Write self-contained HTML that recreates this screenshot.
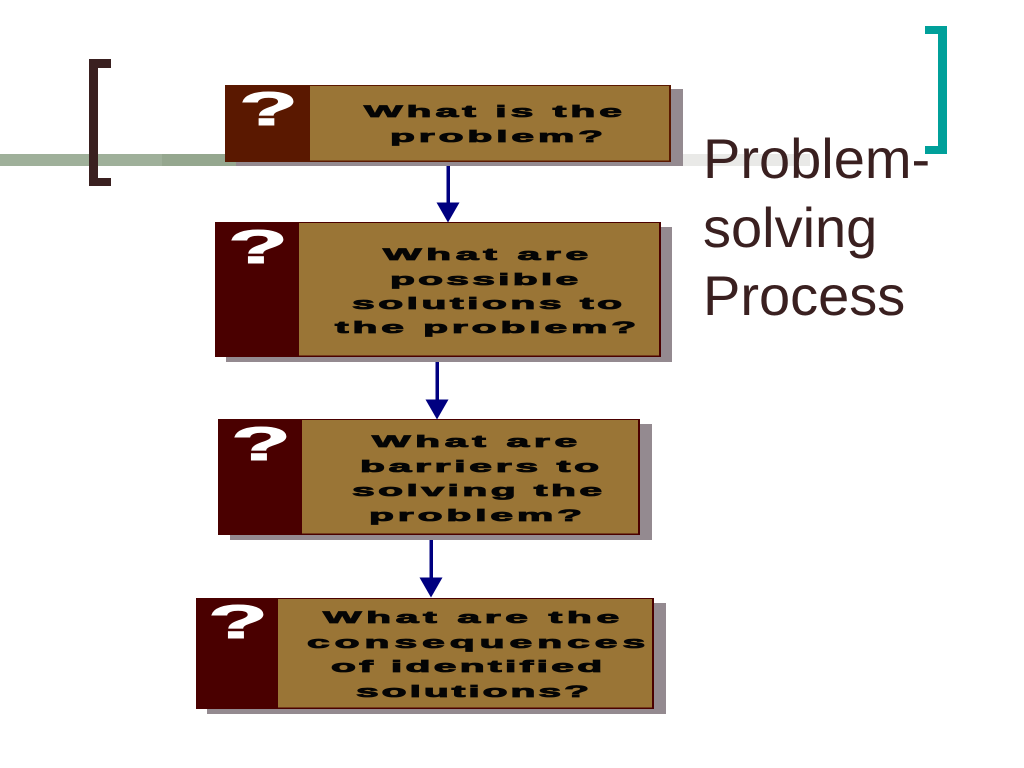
<!DOCTYPE html>
<html>
<head>
<meta charset="utf-8">
<style>
html,body{margin:0;padding:0;background:#fff;width:1024px;height:768px;overflow:hidden}
svg{display:block}
.t{font-family:"Liberation Sans",sans-serif;font-weight:bold;font-size:17px;fill:#050505;stroke:#050505;stroke-width:.8}
.q{font-family:"Liberation Sans",sans-serif;font-weight:bold;font-size:47px;fill:#fff;stroke:#fff;stroke-width:1}
.h{font-family:"Liberation Sans",sans-serif;font-size:56px;fill:#3a2020}
</style>
</head>
<body>
<svg width="1024" height="768" viewBox="0 0 1024 768" xmlns="http://www.w3.org/2000/svg">
<rect x="0" y="154" width="162" height="12" fill="#9fb09a"/>
<rect x="162" y="154" width="78" height="12" fill="#95a78f"/>
<rect x="680" y="154" width="130" height="12" fill="#e9e9e7"/>

<path d="M89 59h22v9h-13v110h13v8h-22z" fill="#3a2020"/>
<path d="M925 26h22v128h-22v-8h13v-112h-13z" fill="#00a09a"/>

<!-- Box 1 -->
<rect x="236" y="89" width="447" height="77" fill="#948a90"/>
<rect x="225" y="85" width="446" height="77" fill="#5a1800"/>
<rect x="310" y="86" width="359" height="74.500" fill="#9a7536"/>
<text class="q" x="239" y="125" textLength="59" lengthAdjust="spacingAndGlyphs">?</text>
<text class="t" transform="translate(364 117) scale(2.4 1)" textLength="107.500" lengthAdjust="spacing">What is the</text>
<text class="t" transform="translate(390 142) scale(2.4 1)" textLength="88.800" lengthAdjust="spacing">problem?</text>

<!-- Box 2 -->
<rect x="226" y="227" width="446" height="135" fill="#948a90"/>
<rect x="215" y="222" width="446" height="135" fill="#4a0000"/>
<rect x="299" y="223" width="360" height="132.500" fill="#9a7536"/>
<text class="q" x="228" y="263" textLength="60" lengthAdjust="spacingAndGlyphs">?</text>
<text class="t" transform="translate(383 260) scale(2.4 1)" textLength="85.500" lengthAdjust="spacing">What are</text>
<text class="t" transform="translate(390 285) scale(2.4 1)" textLength="78.400" lengthAdjust="spacing">possible</text>
<text class="t" transform="translate(352 309) scale(2.4 1)" textLength="112.500" lengthAdjust="spacing">solutions to</text>
<text class="t" transform="translate(335 333) scale(2.4 1)" textLength="125.500" lengthAdjust="spacing">the problem?</text>

<!-- Box 3 -->
<rect x="230" y="424" width="422" height="116" fill="#948a90"/>
<rect x="218" y="419" width="422" height="116" fill="#4a0000"/>
<rect x="302" y="420" width="336" height="113.500" fill="#9a7536"/>
<text class="q" x="231" y="460" textLength="60" lengthAdjust="spacingAndGlyphs">?</text>
<text class="t" transform="translate(372 447) scale(2.4 1)" textLength="85.500" lengthAdjust="spacing">What are</text>
<text class="t" transform="translate(360 472) scale(2.4 1)" textLength="99.600" lengthAdjust="spacing">barriers to</text>
<text class="t" transform="translate(352 496) scale(2.4 1)" textLength="104.200" lengthAdjust="spacing">solving the</text>
<text class="t" transform="translate(369 521) scale(2.4 1)" textLength="88.800" lengthAdjust="spacing">problem?</text>

<!-- Box 4 -->
<rect x="207" y="603" width="459" height="111" fill="#948a90"/>
<rect x="196" y="598" width="458" height="111" fill="#4a0000"/>
<rect x="278" y="599" width="374" height="108.500" fill="#9a7536"/>
<text class="q" x="208" y="638" textLength="60" lengthAdjust="spacingAndGlyphs">?</text>
<text class="t" transform="translate(323 623) scale(2.4 1)" textLength="123.400" lengthAdjust="spacing">What are the</text>
<text class="t" transform="translate(307 648) scale(2.4 1)" textLength="140.900" lengthAdjust="spacing">consequences</text>
<text class="t" transform="translate(331 672) scale(2.4 1)" textLength="113" lengthAdjust="spacing">of identified</text>
<text class="t" transform="translate(356 697) scale(2.4 1)" textLength="97.100" lengthAdjust="spacing">solutions?</text>

<!-- Arrows -->
<rect x="446.500" y="166" width="3.500" height="38" fill="#000080"/>
<path d="M436.500 202.500h23l-11.500 20z" fill="#000080"/>
<rect x="435.500" y="362" width="3.500" height="38" fill="#000080"/>
<path d="M425.500 399.500h23l-11.500 20z" fill="#000080"/>
<rect x="429.500" y="540" width="3.500" height="38" fill="#000080"/>
<path d="M419.500 577.500h23l-11.500 20z" fill="#000080"/>

<!-- Title -->
<text class="h" x="703" y="178">Problem-</text>
<text class="h" x="703" y="247">solving</text>
<text class="h" x="703" y="315">Process</text>
</svg>
</body>
</html>
